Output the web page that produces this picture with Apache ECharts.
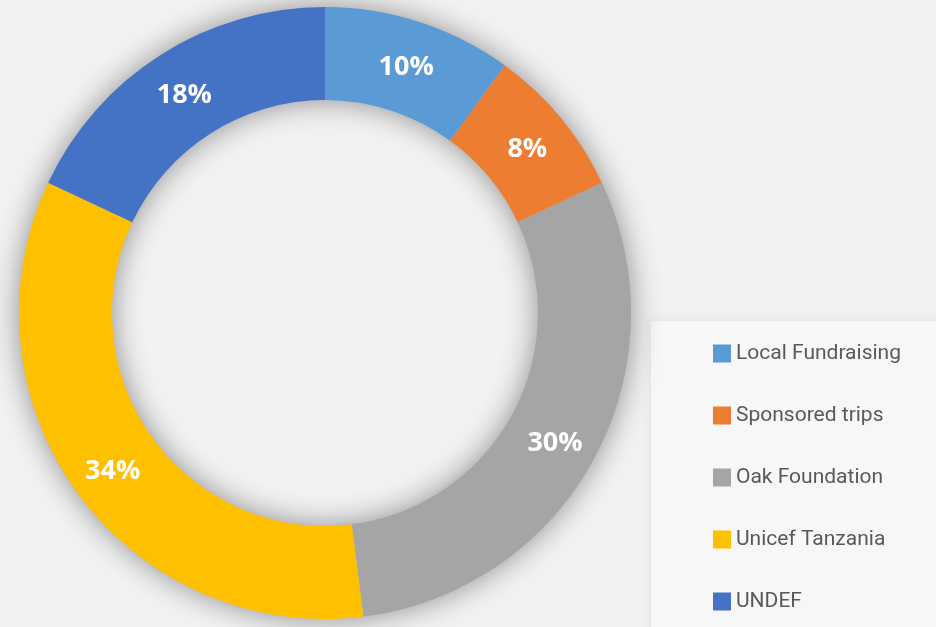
<!DOCTYPE html>
<html>
<head>
<meta charset="utf-8">
<script src="https://cdn.jsdelivr.net/npm/echarts@6/dist/echarts.min.js"></script>
<style>
  html, body { margin: 0; padding: 0; background: #f2f2f2; }
  #main { width: 936px; height: 627px; }
</style>
</head>
<body>
<div id="main"></div>
<script>
// sources of funding, share in percent
const categories = ['Local Fundraising', 'Sponsored trips', 'Oak Foundation', 'Unicef Tanzania', 'UNDEF'];
const shares = [10, 8, 30, 34, 18];
const colors = ['#5b9bd5', '#ed7d31', '#a5a5a5', '#ffc000', '#4472c4'];

const chart = echarts.init(document.getElementById('main'));

const option = {
  backgroundColor: '#f2f2f2',
  animation: false,
  color: colors,
  graphic: [
    {
      type: 'rect',
      z: 0,
      shape: { x: 651, y: 321, width: 300, height: 320 },
      style: {
        fill: '#f7f7f7',
        shadowBlur: 10,
        shadowColor: 'rgba(0,0,0,0.08)'
      }
    }
  ],
  legend: {
    orient: 'vertical',
    left: 708,
    top: 338,
    height: 300,
    itemWidth: 18,
    itemHeight: 18,
    itemGap: 41,
    icon: 'rect',
    data: categories,
    textStyle: {
      fontFamily: 'Roboto, sans-serif',
      fontSize: 21,
      color: '#595959'
    }
  },
  series: [
    {
      // shadow ring underneath the donut
      type: 'pie',
      silent: true,
      center: [325, 313],
      radius: [213, 306],
      z: 1,
      label: { show: false },
      labelLine: { show: false },
      itemStyle: {
        color: '#bbbbbb',
        shadowBlur: 30,
        shadowColor: 'rgba(0,0,0,0.42)'
      },
      data: [{ value: 1, name: '' }]
    },
    {
      type: 'pie',
      center: [325, 313],
      radius: [213, 306],
      startAngle: 90,
      clockwise: true,
      z: 2,
      emphasis: { disabled: true },
      itemStyle: { borderWidth: 0 },
      label: {
        show: true,
        position: 'inside',
        formatter: p => Math.round(p.percent) + '%',
        color: '#ffffff',
        fontFamily: '"Open Sans", sans-serif',
        fontWeight: 'bold',
        fontSize: 27,
        offset: [0, 4]
      },
      labelLine: { show: false },
      data: categories.map((c, i) => ({ name: c, value: shares[i] }))
    }
  ]
};

chart.setOption(option);
</script>
</body>
</html>
